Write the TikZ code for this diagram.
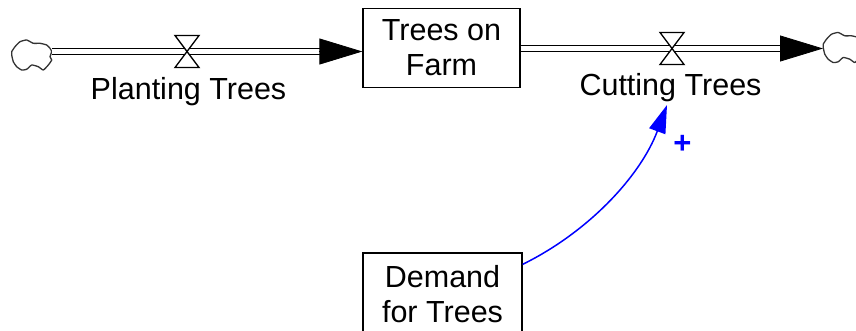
\documentclass[tikz,border=0pt]{standalone}
\usepackage{fontspec}
\setmainfont{Liberation Sans}
\usetikzlibrary{arrows.meta, calc}
\begin{document}
\begin{tikzpicture}[x=1pt, y=-1pt,
  every node/.style={font=\fontsize{30.5}{35}\selectfont},
  stock/.style={draw, line width=1.3pt, inner sep=0pt, align=center},
  pipe/.style={draw, line width=1.5pt, double=white, double distance=4.4pt},
  flowhead/.style={line width=0.8pt, -{Triangle[length=43pt, width=26pt]}},
  valve/.style={draw, fill=white, line width=1.3pt, line join=miter},
  cloudline/.style={draw=black!80, line width=1.3pt},
  infolink/.style={draw=blue, line width=1.5pt, -{Triangle[length=28pt, width=17pt]}},
  pol/.style={text=blue, font=\fontsize{31}{34}\selectfont\bfseries},
  cloudpic/.pic={
    \draw[cloudline] plot[smooth cycle, tension=0.3] coordinates {
      (-20.3,-4.3) (-17,-9.3) (-12,-14.3) (-5.3,-16) (1.3,-12.7) (8,-12.7)
      (14.7,-11) (18,-7.7) (19.7,-4.3) (18,0.7) (19.7,4) (16.3,9) (11.3,14)
      (6.3,10.7) (-0.3,9) (-5.3,13.3) (-10.3,14) (-15.3,10.7) (-18.7,5.7) (-20.3,-1)};
  },
  valvepic/.pic={
    \draw[valve] (-12,-16) -- (12,-16) -- (0,0) -- cycle;
    \draw[valve] (-12,16) -- (12,16) -- (0,0) -- cycle;
  }
]
\useasboundingbox (0,0) rectangle (856,330);
\clip (0,0) rectangle (856,330);

% stocks and auxiliary
\node[stock, minimum width=157pt, minimum height=79pt] (tof) at (441.5,48) {Trees on\\Farm};
\node[stock, minimum width=159pt, minimum height=83pt] (dem) at (442.5,294.5) {Demand\\for Trees};

% key points
\coordinate (srcL) at (52,51.5);
\coordinate (sinkR) at (823,48.5);
\coordinate (vL) at (187,51.5);
\coordinate (vR) at (672,48.5);
\coordinate (cuttip) at (667,105);

% clouds
\pic at (32,56) {cloudpic};
\pic at (843.5,48.5) {cloudpic};

% pipes
\draw[pipe] (srcL) -- ($(tof.west |- srcL)+(-42,0)$);
\draw[flowhead] ($(tof.west |- srcL)+(-43,0)$) -- (tof.west |- srcL);
\draw[pipe] (tof.east |- sinkR) -- ($(sinkR)+(-42,0)$);
\draw[flowhead] ($(sinkR)+(-43,0)$) -- (sinkR);

% valves
\pic at (vL) {valvepic};
\pic at (vR) {valvepic};

% rate labels
\node[anchor=base] (plant) at (188.5,99) {Planting Trees};
\node[anchor=base] (cut) at (670.5,95) {Cutting Trees};

% information link
\draw[infolink] ([yshift=-12pt]dem.north east) .. controls +(67,-33) and +(-26,70) .. (cuttip);
\node[pol, anchor=base] (plus) at (682.3,153) {+};
\end{tikzpicture}
\end{document}
